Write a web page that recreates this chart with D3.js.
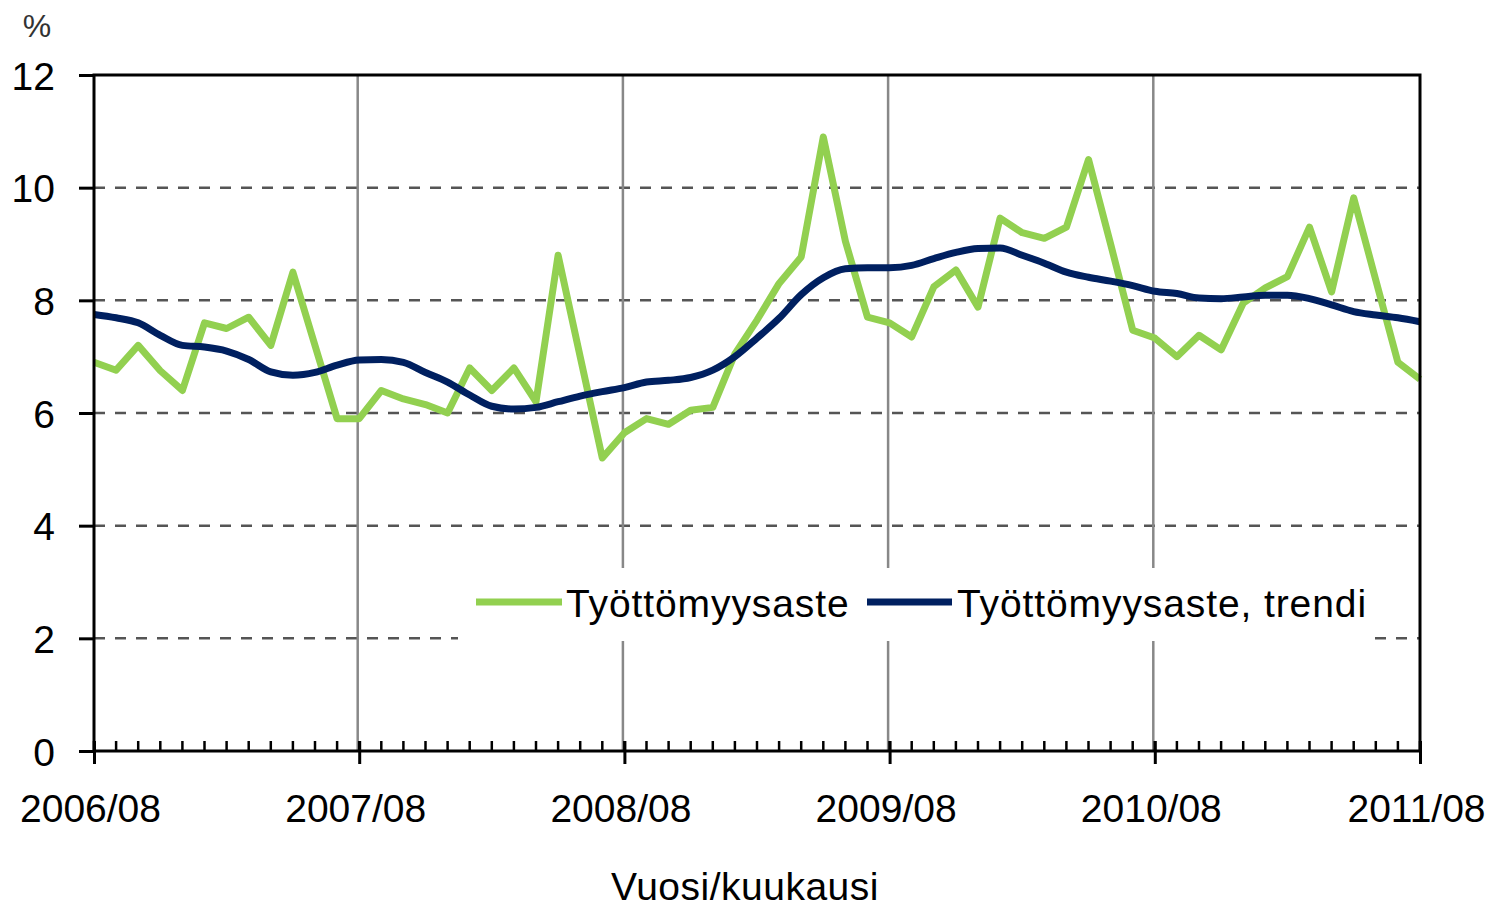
<!DOCTYPE html>
<html>
<head>
<meta charset="utf-8">
<script src="https://cdn.jsdelivr.net/npm/d3@7"></script>
<style>
  body { margin: 0; background: #fff; }
  svg { display: block; font-family: "Liberation Sans", Arial, sans-serif; }
</style>
</head>
<body>
<script>
// monthly rates 2006/08 .. 2011/08
const rate = [6.9, 6.76, 7.2, 6.75, 6.4, 7.6, 7.5, 7.7, 7.2, 8.5,
  7.2, 5.9, 5.9, 6.4, 6.25, 6.15, 6.0, 6.8, 6.4, 6.8,
  6.2, 8.8, 7.0, 5.2, 5.65, 5.9, 5.8, 6.05, 6.1, 7.05,
  7.65, 8.3, 8.77, 10.9, 9.05, 7.7, 7.6, 7.35, 8.24, 8.54,
  7.88, 9.46, 9.2, 9.1, 9.3, 10.5, 9.0, 7.47, 7.33, 7.0,
  7.38, 7.12, 7.95, 8.22, 8.42, 9.3, 8.15, 9.82, 8.36, 6.9, 6.6]
const trend = [7.75, 7.69, 7.6, 7.38, 7.2, 7.17, 7.1, 6.95, 6.73, 6.67,
  6.72, 6.85, 6.94, 6.95, 6.9, 6.72, 6.55, 6.32, 6.12, 6.07,
  6.1, 6.2, 6.3, 6.38, 6.45, 6.55, 6.58, 6.63, 6.76, 7.0,
  7.33, 7.68, 8.1, 8.4, 8.56, 8.58, 8.58, 8.62, 8.74, 8.85,
  8.92, 8.93, 8.8, 8.66, 8.5, 8.41, 8.34, 8.26, 8.16, 8.12,
  8.04, 8.03, 8.06, 8.09, 8.09, 8.03, 7.92, 7.8, 7.74, 7.69, 7.62]
const yTicks = [0, 2, 4, 6, 8, 10, 12]
const xLabels = ['2006/08', '2007/08', '2008/08', '2009/08', '2010/08', '2011/08']
const seriesNames = ['Työttömyysaste', 'Työttömyysaste, trendi']
const colors = ['#92d050', '#002060']

const monthIdx = d3.range(rate.length)
const yearIdx = xLabels.map((d, i) => i * 12)

const W = 1495, H = 911
const pLeft = 94, pRight = 1420, pTop = 75, pBottom = 751

const svg = d3.select('body').append('svg').attr('width', W).attr('height', H)

const x = d3.scaleLinear().domain([0, rate.length - 1]).range([pLeft, pRight])
const y = d3.scaleLinear().domain([0, 12]).range([pBottom, pTop])

// horizontal dashed gridlines
svg.append('g').selectAll('line').data(yTicks.filter(v => v > 0 && v < 12)).join('line')
  .attr('x1', pLeft).attr('x2', pRight)
  .attr('y1', d => y(d)).attr('y2', d => y(d))
  .attr('stroke', '#555').attr('stroke-width', 2.5).attr('stroke-dasharray', '11,10')

// vertical year lines
svg.append('g').selectAll('line').data(yearIdx.slice(1, -1)).join('line')
  .attr('x1', d => x(d) - 1.5).attr('x2', d => x(d) - 1.5)
  .attr('y1', pTop).attr('y2', pBottom)
  .attr('stroke', '#888').attr('stroke-width', 2.5)

// legend box (covers gridlines)
const lg = svg.append('g')
lg.append('rect').attr('x', 458).attr('y', 568).attr('width', 910).attr('height', 73).attr('fill', '#fff')

// data lines
const line = d3.line().x((d, i) => x(i)).y(d => y(d))
svg.append('path').datum(rate).attr('d', line)
  .attr('fill', 'none').attr('stroke', colors[0]).attr('stroke-width', 7).attr('stroke-linejoin', 'round')
svg.append('path').datum(trend).attr('d', line.curve(d3.curveMonotoneX))
  .attr('fill', 'none').attr('stroke', colors[1]).attr('stroke-width', 7).attr('stroke-linejoin', 'round')

// frame
svg.append('rect').attr('x', pLeft).attr('y', pTop).attr('width', pRight - pLeft).attr('height', pBottom - pTop)
  .attr('fill', 'none').attr('stroke', '#000').attr('stroke-width', 3)

// y axis
const yAxis = svg.append('g').attr('transform', `translate(${pLeft},0)`)
  .call(d3.axisLeft(y).tickValues(yTicks).tickSize(15).tickPadding(24))
yAxis.select('.domain').remove()
yAxis.selectAll('line').attr('stroke', '#000').attr('stroke-width', 3)
yAxis.selectAll('text').attr('font-size', 39).attr('fill', '#000').attr('dy', '0.36em')

// x axis: minor monthly ticks up, major yearly ticks across
svg.append('g').selectAll('line').data(monthIdx).join('line')
  .attr('x1', d => x(d)).attr('x2', d => x(d))
  .attr('y1', pBottom - 10).attr('y2', pBottom)
  .attr('stroke', '#000').attr('stroke-width', 2.5)
const xAxis = svg.append('g').attr('transform', `translate(0,${pBottom})`)
  .call(d3.axisBottom(x).tickValues(yearIdx).tickFormat((d, i) => xLabels[i]).tickSize(13).tickPadding(30))
xAxis.select('.domain').remove()
xAxis.selectAll('line').attr('stroke', '#000').attr('stroke-width', 3).attr('y1', -10)
xAxis.selectAll('text').attr('font-size', 39).attr('fill', '#000').attr('dx', -4)

// axis titles
svg.append('text').attr('x', 37).attr('y', 37).attr('text-anchor', 'middle')
  .attr('font-size', 32).attr('fill', '#333').text('%')
svg.append('text').attr('x', 745).attr('y', 900).attr('text-anchor', 'middle')
  .attr('font-size', 39).attr('letter-spacing', 0.5).text('Vuosi/kuukausi')

// legend entries
const legendItems = [{ x1: 476, x2: 562, tx: 566 }, { x1: 867, x2: 952, tx: 957 }]
legendItems.forEach((it, i) => {
  lg.append('line').attr('x1', it.x1).attr('x2', it.x2).attr('y1', 602).attr('y2', 602)
    .attr('stroke', colors[i]).attr('stroke-width', 7)
  lg.append('text').attr('x', it.tx).attr('y', 617).attr('font-size', 39)
    .attr('letter-spacing', 0.9).text(seriesNames[i])
})
</script>
</body>
</html>
